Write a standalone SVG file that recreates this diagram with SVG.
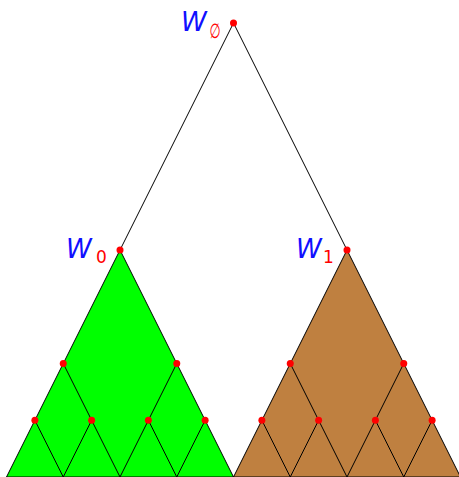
<svg xmlns="http://www.w3.org/2000/svg" width="459" height="477" viewBox="0 0 459 477">
<style>
.edge{stroke:#000;stroke-width:1;fill:none}
.tri{stroke:#000;stroke-width:1;stroke-linejoin:miter}
.dot{fill:#ff0000}
.lbl{font-family:"DejaVu Sans",sans-serif;font-size:26px;font-style:italic;fill:#1010ff}
.sub{font-family:"DejaVu Sans",sans-serif;font-size:17px;font-style:normal;fill:#ff0000}
</style>
<rect width="459" height="477" fill="#fff"/>
<g id="triangles">
<polygon class="tri" points="120,250 6.5,477 233.5,477" fill="#00ff00"/>
<polygon class="tri" points="347,250 233.5,477 460.5,477" fill="#bf8040"/>
</g>
<g id="connectors">
<line class="edge" x1="233.5" y1="23" x2="120" y2="250"/>
<line class="edge" x1="233.5" y1="23" x2="347" y2="250"/>
<line class="edge" x1="63.25" y1="363.5" x2="120" y2="477"/>
<line class="edge" x1="176.75" y1="363.5" x2="120" y2="477"/>
<line class="edge" x1="34.875" y1="420.25" x2="63.25" y2="477"/>
<line class="edge" x1="91.625" y1="420.25" x2="63.25" y2="477"/>
<line class="edge" x1="148.375" y1="420.25" x2="176.75" y2="477"/>
<line class="edge" x1="205.125" y1="420.25" x2="176.75" y2="477"/>
<line class="edge" x1="290.25" y1="363.5" x2="347" y2="477"/>
<line class="edge" x1="403.75" y1="363.5" x2="347" y2="477"/>
<line class="edge" x1="261.875" y1="420.25" x2="290.25" y2="477"/>
<line class="edge" x1="318.625" y1="420.25" x2="290.25" y2="477"/>
<line class="edge" x1="375.375" y1="420.25" x2="403.75" y2="477"/>
<line class="edge" x1="432.125" y1="420.25" x2="403.75" y2="477"/>
</g>
<g id="node-Wempty">
<circle class="dot" cx="233.5" cy="23" r="3.5"/>
<text class="lbl" x="181" y="31">W</text>
<text class="sub" transform="translate(209.5,37.5) scale(0.75,1.2)" font-size="19" font-style="italic">∅</text>
</g>
<g id="node-W0">
<circle class="dot" cx="120" cy="250" r="3.5"/>
<text class="lbl" x="66" y="258">W</text>
<text class="sub" x="96" y="262.5">0</text>
</g>
<g id="node-W1">
<circle class="dot" cx="347" cy="250" r="3.5"/>
<text class="lbl" x="296" y="258">W</text>
<text class="sub" x="323" y="262.5">1</text>
</g>
<g id="green-nodes">
<circle class="dot" cx="63.25" cy="363.5" r="3.5"/>
<circle class="dot" cx="176.75" cy="363.5" r="3.5"/>
<circle class="dot" cx="34.875" cy="420.25" r="3.5"/>
<circle class="dot" cx="91.625" cy="420.25" r="3.5"/>
<circle class="dot" cx="148.375" cy="420.25" r="3.5"/>
<circle class="dot" cx="205.125" cy="420.25" r="3.5"/>
</g>
<g id="brown-nodes">
<circle class="dot" cx="290.25" cy="363.5" r="3.5"/>
<circle class="dot" cx="403.75" cy="363.5" r="3.5"/>
<circle class="dot" cx="261.875" cy="420.25" r="3.5"/>
<circle class="dot" cx="318.625" cy="420.25" r="3.5"/>
<circle class="dot" cx="375.375" cy="420.25" r="3.5"/>
<circle class="dot" cx="432.125" cy="420.25" r="3.5"/>
</g>
</svg>
